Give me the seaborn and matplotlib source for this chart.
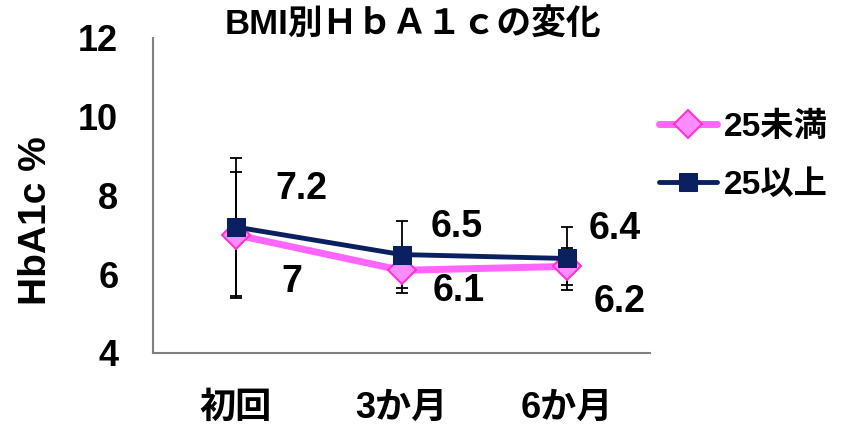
import numpy as np
import pandas as pd
import matplotlib
matplotlib.use('Agg')
import matplotlib.pyplot as plt
import seaborn as sns

timepoints = ['初回', '3か月', '6か月']
under25 = [7.0, 6.1, 6.2]
under25_sd = [1.6, 0.57, 0.47]
over25 = [7.2, 6.5, 6.4]
over25_sd = [1.75, 0.85, 0.8]
series_names = ['25未満', '25以上']
yticks = [4, 6, 8, 10, 12]
title = 'BMI別ＨｂＡ１ｃの変化'
ylabel = 'HbA1c %'

sns.set_style('white')
plt.rcParams['font.family'] = ['Liberation Sans', 'Noto Sans CJK JP']
plt.rcParams['font.weight'] = 'bold'
for k in ['text.color', 'axes.labelcolor', 'xtick.labelcolor', 'ytick.labelcolor']:
    plt.rcParams[k] = 'black'

pos = np.arange(len(timepoints))
df = pd.DataFrame({'pos': pos, 'under': under25, 'over': over25})

fig = plt.figure(figsize=(8.6, 4.24), dpi=100)
ax = fig.add_axes([153/860, 1-353/424, 497/860, 315/424])

# error bars behind the markers
ax.errorbar(pos, under25, yerr=under25_sd, fmt='none', ecolor='black',
            elinewidth=1.3, capsize=4, capthick=1.3, zorder=1)
ax.errorbar(pos, over25, yerr=over25_sd, fmt='none', ecolor='black',
            elinewidth=1.3, capsize=4, capthick=1.3, zorder=1)

sns.lineplot(data=df, x='pos', y='under', ax=ax, color='#ff66ff', lw=5,
             marker='D', markersize=14, markerfacecolor='#ff8cff',
             markeredgecolor='#ff33cc', markeredgewidth=1.5,
             label=series_names[0], zorder=2)
sns.lineplot(data=df, x='pos', y='over', ax=ax, color='#0a2060', lw=3.5,
             marker='s', markersize=13, markerfacecolor='#0a2060',
             markeredgecolor='#0a2060', label=series_names[1], zorder=3)

# data labels (Excel-like placement)
under_off = [(40, -34), (41, -15), (37.5, -25.5)]
over_off = [(47.5, 27), (40, 19.5), (34.5, 21)]
for i in range(len(pos)):
    ax.annotate(f'{under25[i]:g}', (pos[i], under25[i]), xytext=under_off[i],
                textcoords='offset points', ha='center', va='center',
                fontsize=27, fontweight='bold')
    ax.annotate(f'{over25[i]:g}', (pos[i], over25[i]), xytext=over_off[i],
                textcoords='offset points', ha='center', va='center',
                fontsize=27, fontweight='bold')

ax.set_xlim(-0.5, len(timepoints) - 0.5)
ax.set_ylim(yticks[0], yticks[-1])
ax.set_yticks(yticks)
ax.set_xticks(np.arange(-0.5, len(timepoints)), labels=[])
ax.set_xticks(pos, labels=timepoints, minor=True)
ax.tick_params(axis='x', which='major', length=7, width=1.5, color='#7f7f7f', direction='out')
ax.tick_params(axis='x', which='minor', length=0, pad=27, labelsize=26)
ax.tick_params(axis='y', length=8, width=1.5, color='#7f7f7f', direction='out',
               pad=17, labelsize=26)
for s in ['top', 'right']:
    ax.spines[s].set_visible(False)
for s in ['left', 'bottom']:
    ax.spines[s].set_color('#7f7f7f')
    ax.spines[s].set_linewidth(1.5)

ax.set_xlabel('')
ax.set_ylabel(ylabel, fontsize=28, fontweight='bold')
ax.yaxis.set_label_coords(-0.199, 0.42)

fig.text(413/860, 1-25/424, title, ha='center', va='center', fontsize=25,
         fontweight='bold')

h, l = ax.get_legend_handles_labels()
ax.legend_.remove()
fig.legend(h, l, loc='center left', bbox_to_anchor=(659/860, 1-156/424),
           frameon=False, fontsize=24, borderpad=0, borderaxespad=0,
           handlelength=1.75, handletextpad=0.2, labelspacing=0.8)

fig.savefig('out.png', dpi=100)
